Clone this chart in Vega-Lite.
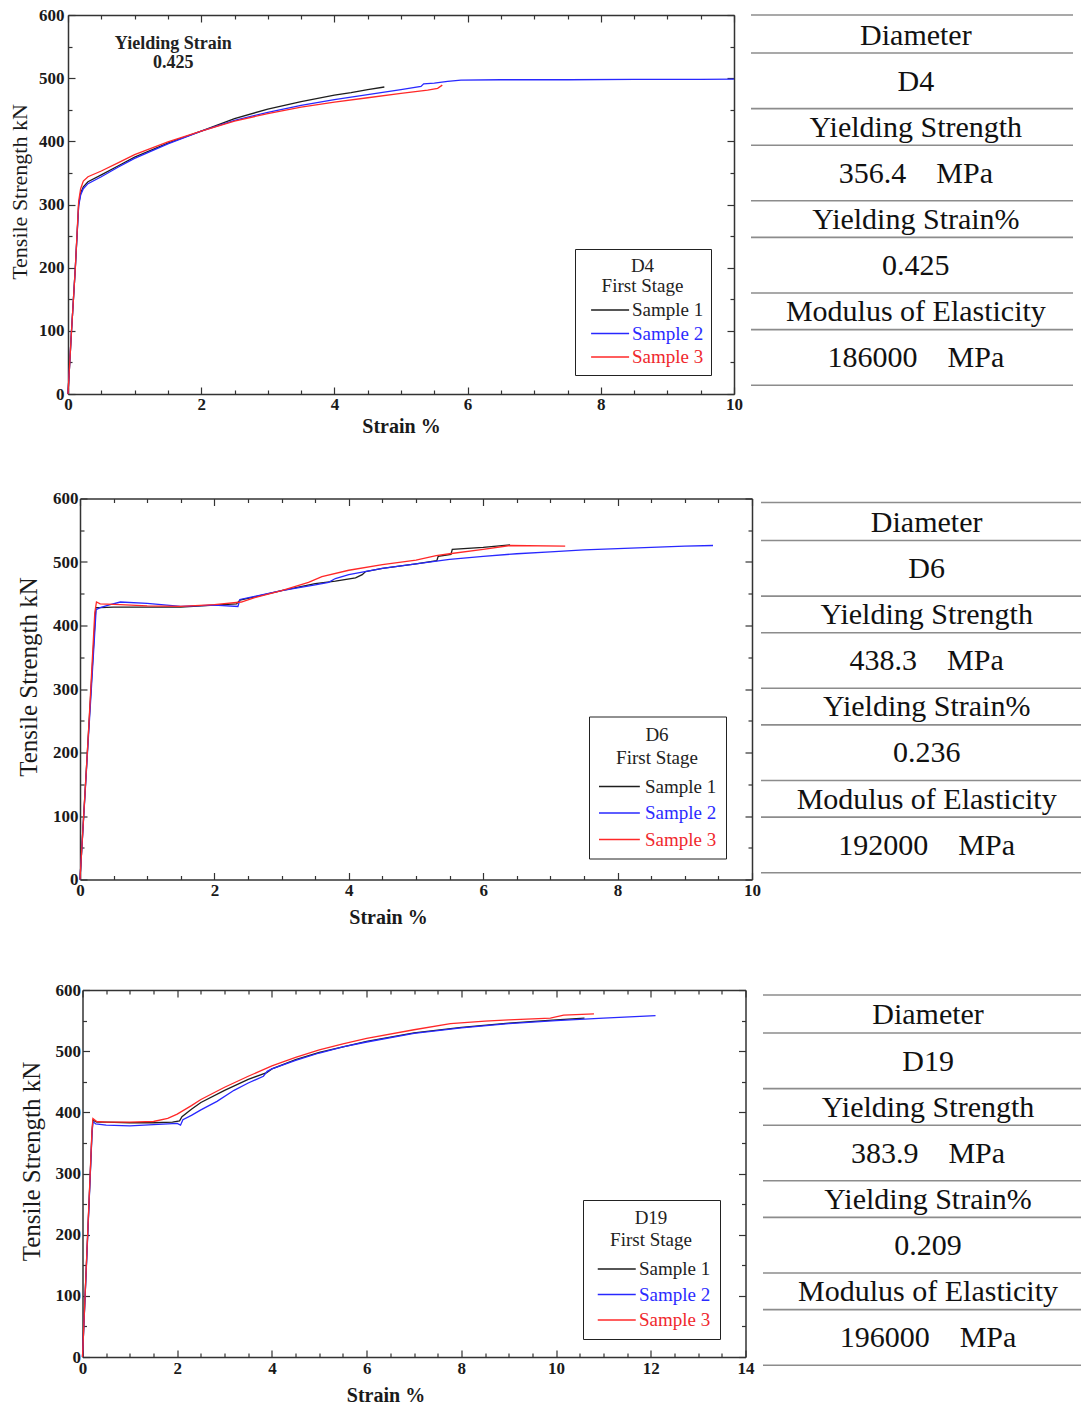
{
  "$schema": "https://vega.github.io/schema/vega-lite/v6.json",
  "background": "white",
  "padding": {"left": 0, "top": 6, "right": 0, "bottom": 0},
  "spacing": 53.5,
  "resolve": {"scale": {"color": "independent"}, "legend": {"color": "independent"}},
  "datasets": {
    "d4": [
      {"sample": "Sample 1", "strain": 0, "load": 0}, {"sample": "Sample 1", "strain": 0.05, "load": 95}, {"sample": "Sample 1", "strain": 0.11, "load": 200}, {"sample": "Sample 1", "strain": 0.16, "load": 300}, {"sample": "Sample 1", "strain": 0.19, "load": 318}, {"sample": "Sample 1", "strain": 0.23, "load": 328}, {"sample": "Sample 1", "strain": 0.3, "load": 336}, {"sample": "Sample 1", "strain": 0.5, "load": 347}, {"sample": "Sample 1", "strain": 0.75, "load": 361}, {"sample": "Sample 1", "strain": 1.0, "load": 375}, {"sample": "Sample 1", "strain": 1.5, "load": 397}, {"sample": "Sample 1", "strain": 2.0, "load": 416}, {"sample": "Sample 1", "strain": 2.5, "load": 436}, {"sample": "Sample 1", "strain": 3.0, "load": 451}, {"sample": "Sample 1", "strain": 3.5, "load": 463}, {"sample": "Sample 1", "strain": 4.0, "load": 473}, {"sample": "Sample 1", "strain": 4.25, "load": 477}, {"sample": "Sample 1", "strain": 4.5, "load": 482}, {"sample": "Sample 1", "strain": 4.75, "load": 486},
      {"sample": "Sample 2", "strain": 0, "load": 0}, {"sample": "Sample 2", "strain": 0.05, "load": 95}, {"sample": "Sample 2", "strain": 0.11, "load": 200}, {"sample": "Sample 2", "strain": 0.16, "load": 298}, {"sample": "Sample 2", "strain": 0.19, "load": 315}, {"sample": "Sample 2", "strain": 0.23, "load": 325}, {"sample": "Sample 2", "strain": 0.3, "load": 333}, {"sample": "Sample 2", "strain": 0.5, "load": 344}, {"sample": "Sample 2", "strain": 0.75, "load": 359}, {"sample": "Sample 2", "strain": 1.0, "load": 373}, {"sample": "Sample 2", "strain": 1.5, "load": 396}, {"sample": "Sample 2", "strain": 2.0, "load": 416}, {"sample": "Sample 2", "strain": 2.5, "load": 433}, {"sample": "Sample 2", "strain": 3.0, "load": 446}, {"sample": "Sample 2", "strain": 3.5, "load": 457}, {"sample": "Sample 2", "strain": 4.0, "load": 466}, {"sample": "Sample 2", "strain": 4.5, "load": 474}, {"sample": "Sample 2", "strain": 5.0, "load": 482}, {"sample": "Sample 2", "strain": 5.3, "load": 487}, {"sample": "Sample 2", "strain": 5.34, "load": 491}, {"sample": "Sample 2", "strain": 5.5, "load": 492}, {"sample": "Sample 2", "strain": 5.7, "load": 495}, {"sample": "Sample 2", "strain": 5.9, "load": 497}, {"sample": "Sample 2", "strain": 6.5, "load": 497.5}, {"sample": "Sample 2", "strain": 7.5, "load": 497.5}, {"sample": "Sample 2", "strain": 8.5, "load": 498}, {"sample": "Sample 2", "strain": 9.5, "load": 498}, {"sample": "Sample 2", "strain": 10, "load": 498.5},
      {"sample": "Sample 3", "strain": 0, "load": 0}, {"sample": "Sample 3", "strain": 0.05, "load": 95}, {"sample": "Sample 3", "strain": 0.11, "load": 200}, {"sample": "Sample 3", "strain": 0.16, "load": 305}, {"sample": "Sample 3", "strain": 0.19, "load": 325}, {"sample": "Sample 3", "strain": 0.23, "load": 337}, {"sample": "Sample 3", "strain": 0.3, "load": 344}, {"sample": "Sample 3", "strain": 0.5, "load": 353}, {"sample": "Sample 3", "strain": 0.75, "load": 366}, {"sample": "Sample 3", "strain": 1.0, "load": 379}, {"sample": "Sample 3", "strain": 1.5, "load": 399}, {"sample": "Sample 3", "strain": 2.0, "load": 416}, {"sample": "Sample 3", "strain": 2.5, "load": 432}, {"sample": "Sample 3", "strain": 3.0, "load": 444}, {"sample": "Sample 3", "strain": 3.5, "load": 454}, {"sample": "Sample 3", "strain": 4.0, "load": 462}, {"sample": "Sample 3", "strain": 4.5, "load": 469}, {"sample": "Sample 3", "strain": 5.0, "load": 476}, {"sample": "Sample 3", "strain": 5.4, "load": 481}, {"sample": "Sample 3", "strain": 5.55, "load": 484}, {"sample": "Sample 3", "strain": 5.62, "load": 489}
    ],
    "d6": [
      {"sample": "Sample 1", "strain": 0, "load": 0}, {"sample": "Sample 1", "strain": 0.12, "load": 220}, {"sample": "Sample 1", "strain": 0.235, "load": 428}, {"sample": "Sample 1", "strain": 0.3, "load": 428}, {"sample": "Sample 1", "strain": 0.5, "load": 429}, {"sample": "Sample 1", "strain": 1.0, "load": 429}, {"sample": "Sample 1", "strain": 1.5, "load": 429}, {"sample": "Sample 1", "strain": 2.0, "load": 432}, {"sample": "Sample 1", "strain": 2.33, "load": 434}, {"sample": "Sample 1", "strain": 2.38, "load": 440}, {"sample": "Sample 1", "strain": 2.6, "load": 445}, {"sample": "Sample 1", "strain": 3.0, "load": 455}, {"sample": "Sample 1", "strain": 3.5, "load": 466}, {"sample": "Sample 1", "strain": 3.8, "load": 470}, {"sample": "Sample 1", "strain": 4.1, "load": 475}, {"sample": "Sample 1", "strain": 4.2, "load": 480}, {"sample": "Sample 1", "strain": 4.25, "load": 485}, {"sample": "Sample 1", "strain": 4.5, "load": 490}, {"sample": "Sample 1", "strain": 5.0, "load": 497}, {"sample": "Sample 1", "strain": 5.31, "load": 502}, {"sample": "Sample 1", "strain": 5.33, "load": 509}, {"sample": "Sample 1", "strain": 5.52, "load": 512}, {"sample": "Sample 1", "strain": 5.54, "load": 520}, {"sample": "Sample 1", "strain": 6.0, "load": 523}, {"sample": "Sample 1", "strain": 6.4, "load": 527},
      {"sample": "Sample 2", "strain": 0, "load": 0}, {"sample": "Sample 2", "strain": 0.12, "load": 215}, {"sample": "Sample 2", "strain": 0.24, "load": 425}, {"sample": "Sample 2", "strain": 0.3, "load": 428}, {"sample": "Sample 2", "strain": 0.45, "load": 433}, {"sample": "Sample 2", "strain": 0.6, "load": 437}, {"sample": "Sample 2", "strain": 1.0, "load": 435}, {"sample": "Sample 2", "strain": 1.5, "load": 430}, {"sample": "Sample 2", "strain": 2.0, "load": 432}, {"sample": "Sample 2", "strain": 2.35, "load": 430}, {"sample": "Sample 2", "strain": 2.38, "load": 441}, {"sample": "Sample 2", "strain": 2.6, "load": 446}, {"sample": "Sample 2", "strain": 3.0, "load": 455}, {"sample": "Sample 2", "strain": 3.5, "load": 464}, {"sample": "Sample 2", "strain": 3.7, "load": 468}, {"sample": "Sample 2", "strain": 3.8, "load": 474}, {"sample": "Sample 2", "strain": 4.0, "load": 480}, {"sample": "Sample 2", "strain": 4.5, "load": 490}, {"sample": "Sample 2", "strain": 5.0, "load": 497}, {"sample": "Sample 2", "strain": 5.5, "load": 504}, {"sample": "Sample 2", "strain": 6.0, "load": 509}, {"sample": "Sample 2", "strain": 6.5, "load": 513}, {"sample": "Sample 2", "strain": 7.0, "load": 516}, {"sample": "Sample 2", "strain": 7.5, "load": 519}, {"sample": "Sample 2", "strain": 8.0, "load": 521}, {"sample": "Sample 2", "strain": 8.5, "load": 523}, {"sample": "Sample 2", "strain": 9.0, "load": 525}, {"sample": "Sample 2", "strain": 9.42, "load": 526},
      {"sample": "Sample 3", "strain": 0, "load": 0}, {"sample": "Sample 3", "strain": 0.12, "load": 220}, {"sample": "Sample 3", "strain": 0.22, "load": 420}, {"sample": "Sample 3", "strain": 0.245, "load": 437}, {"sample": "Sample 3", "strain": 0.3, "load": 434}, {"sample": "Sample 3", "strain": 0.6, "load": 433}, {"sample": "Sample 3", "strain": 1.0, "load": 431}, {"sample": "Sample 3", "strain": 1.5, "load": 430}, {"sample": "Sample 3", "strain": 2.0, "load": 433}, {"sample": "Sample 3", "strain": 2.4, "load": 437}, {"sample": "Sample 3", "strain": 2.6, "load": 444}, {"sample": "Sample 3", "strain": 3.0, "load": 455}, {"sample": "Sample 3", "strain": 3.4, "load": 468}, {"sample": "Sample 3", "strain": 3.6, "load": 477}, {"sample": "Sample 3", "strain": 4.0, "load": 487}, {"sample": "Sample 3", "strain": 4.5, "load": 496}, {"sample": "Sample 3", "strain": 5.0, "load": 503}, {"sample": "Sample 3", "strain": 5.3, "load": 510}, {"sample": "Sample 3", "strain": 5.5, "load": 513}, {"sample": "Sample 3", "strain": 6.0, "load": 520}, {"sample": "Sample 3", "strain": 6.4, "load": 526}, {"sample": "Sample 3", "strain": 7.22, "load": 525}
    ],
    "d19": [
      {"sample": "Sample 1", "strain": 0, "load": 0}, {"sample": "Sample 1", "strain": 0.1, "load": 183}, {"sample": "Sample 1", "strain": 0.2, "load": 366}, {"sample": "Sample 1", "strain": 0.22, "load": 387}, {"sample": "Sample 1", "strain": 0.3, "load": 384}, {"sample": "Sample 1", "strain": 0.5, "load": 384}, {"sample": "Sample 1", "strain": 1.0, "load": 383}, {"sample": "Sample 1", "strain": 1.5, "load": 383}, {"sample": "Sample 1", "strain": 1.9, "load": 384}, {"sample": "Sample 1", "strain": 2.05, "load": 386}, {"sample": "Sample 1", "strain": 2.1, "load": 393}, {"sample": "Sample 1", "strain": 2.3, "load": 405}, {"sample": "Sample 1", "strain": 2.5, "load": 416}, {"sample": "Sample 1", "strain": 3.0, "load": 436}, {"sample": "Sample 1", "strain": 3.5, "load": 454}, {"sample": "Sample 1", "strain": 3.89, "load": 465}, {"sample": "Sample 1", "strain": 4.0, "load": 471}, {"sample": "Sample 1", "strain": 4.5, "load": 486}, {"sample": "Sample 1", "strain": 5.0, "load": 498}, {"sample": "Sample 1", "strain": 5.5, "load": 507}, {"sample": "Sample 1", "strain": 6.0, "load": 516}, {"sample": "Sample 1", "strain": 7.0, "load": 530}, {"sample": "Sample 1", "strain": 8.0, "load": 539}, {"sample": "Sample 1", "strain": 9.0, "load": 546}, {"sample": "Sample 1", "strain": 10.0, "load": 551}, {"sample": "Sample 1", "strain": 10.6, "load": 554},
      {"sample": "Sample 2", "strain": 0, "load": 0}, {"sample": "Sample 2", "strain": 0.1, "load": 180}, {"sample": "Sample 2", "strain": 0.2, "load": 364}, {"sample": "Sample 2", "strain": 0.22, "load": 385}, {"sample": "Sample 2", "strain": 0.28, "load": 381}, {"sample": "Sample 2", "strain": 0.5, "load": 379}, {"sample": "Sample 2", "strain": 1.0, "load": 378}, {"sample": "Sample 2", "strain": 1.5, "load": 380}, {"sample": "Sample 2", "strain": 2.0, "load": 382}, {"sample": "Sample 2", "strain": 2.07, "load": 379}, {"sample": "Sample 2", "strain": 2.12, "load": 388}, {"sample": "Sample 2", "strain": 2.3, "load": 395}, {"sample": "Sample 2", "strain": 2.5, "load": 404}, {"sample": "Sample 2", "strain": 2.84, "load": 418}, {"sample": "Sample 2", "strain": 3.2, "load": 436}, {"sample": "Sample 2", "strain": 3.5, "load": 448}, {"sample": "Sample 2", "strain": 3.82, "load": 459}, {"sample": "Sample 2", "strain": 3.9, "load": 467}, {"sample": "Sample 2", "strain": 4.0, "load": 471}, {"sample": "Sample 2", "strain": 4.5, "load": 485}, {"sample": "Sample 2", "strain": 5.0, "load": 497}, {"sample": "Sample 2", "strain": 5.5, "load": 507}, {"sample": "Sample 2", "strain": 6.0, "load": 515}, {"sample": "Sample 2", "strain": 7.0, "load": 529}, {"sample": "Sample 2", "strain": 8.0, "load": 538}, {"sample": "Sample 2", "strain": 9.0, "load": 545}, {"sample": "Sample 2", "strain": 10.0, "load": 550}, {"sample": "Sample 2", "strain": 11.0, "load": 554}, {"sample": "Sample 2", "strain": 12.1, "load": 558},
      {"sample": "Sample 3", "strain": 0, "load": 0}, {"sample": "Sample 3", "strain": 0.1, "load": 185}, {"sample": "Sample 3", "strain": 0.2, "load": 370}, {"sample": "Sample 3", "strain": 0.22, "load": 390}, {"sample": "Sample 3", "strain": 0.3, "load": 385}, {"sample": "Sample 3", "strain": 0.5, "load": 384}, {"sample": "Sample 3", "strain": 1.0, "load": 384}, {"sample": "Sample 3", "strain": 1.5, "load": 385}, {"sample": "Sample 3", "strain": 1.8, "load": 390}, {"sample": "Sample 3", "strain": 2.0, "load": 397}, {"sample": "Sample 3", "strain": 2.3, "load": 411}, {"sample": "Sample 3", "strain": 2.5, "load": 421}, {"sample": "Sample 3", "strain": 3.0, "load": 441}, {"sample": "Sample 3", "strain": 3.5, "load": 459}, {"sample": "Sample 3", "strain": 4.0, "load": 476}, {"sample": "Sample 3", "strain": 4.5, "load": 490}, {"sample": "Sample 3", "strain": 5.0, "load": 502}, {"sample": "Sample 3", "strain": 5.5, "load": 512}, {"sample": "Sample 3", "strain": 6.0, "load": 521}, {"sample": "Sample 3", "strain": 7.0, "load": 535}, {"sample": "Sample 3", "strain": 7.77, "load": 545}, {"sample": "Sample 3", "strain": 8.5, "load": 549}, {"sample": "Sample 3", "strain": 9.0, "load": 551}, {"sample": "Sample 3", "strain": 9.88, "load": 554}, {"sample": "Sample 3", "strain": 10.16, "load": 559}, {"sample": "Sample 3", "strain": 10.8, "load": 561}
    ],
    "tables": [
      {"table": "D4", "row": 0, "kind": "label", "text": "Diameter"},
      {"table": "D4", "row": 1, "kind": "value", "text": "D4"},
      {"table": "D4", "row": 2, "kind": "label", "text": "Yielding Strength"},
      {"table": "D4", "row": 3, "kind": "value", "text": "356.4\u00a0\u00a0\u00a0\u00a0MPa"},
      {"table": "D4", "row": 4, "kind": "label", "text": "Yielding Strain%"},
      {"table": "D4", "row": 5, "kind": "value", "text": "0.425"},
      {"table": "D4", "row": 6, "kind": "label", "text": "Modulus of Elasticity"},
      {"table": "D4", "row": 7, "kind": "value", "text": "186000\u00a0\u00a0\u00a0\u00a0MPa"},
      {"table": "D6", "row": 0, "kind": "label", "text": "Diameter"},
      {"table": "D6", "row": 1, "kind": "value", "text": "D6"},
      {"table": "D6", "row": 2, "kind": "label", "text": "Yielding Strength"},
      {"table": "D6", "row": 3, "kind": "value", "text": "438.3\u00a0\u00a0\u00a0\u00a0MPa"},
      {"table": "D6", "row": 4, "kind": "label", "text": "Yielding Strain%"},
      {"table": "D6", "row": 5, "kind": "value", "text": "0.236"},
      {"table": "D6", "row": 6, "kind": "label", "text": "Modulus of Elasticity"},
      {"table": "D6", "row": 7, "kind": "value", "text": "192000\u00a0\u00a0\u00a0\u00a0MPa"},
      {"table": "D19", "row": 0, "kind": "label", "text": "Diameter"},
      {"table": "D19", "row": 1, "kind": "value", "text": "D19"},
      {"table": "D19", "row": 2, "kind": "label", "text": "Yielding Strength"},
      {"table": "D19", "row": 3, "kind": "value", "text": "383.9\u00a0\u00a0\u00a0\u00a0MPa"},
      {"table": "D19", "row": 4, "kind": "label", "text": "Yielding Strain%"},
      {"table": "D19", "row": 5, "kind": "value", "text": "0.209"},
      {"table": "D19", "row": 6, "kind": "label", "text": "Modulus of Elasticity"},
      {"table": "D19", "row": 7, "kind": "value", "text": "196000\u00a0\u00a0\u00a0\u00a0MPa"}
    ]
  },
  "vconcat": [
    {
      "spacing": 7,
      "hconcat": [
        {"width": 1, "height": 1, "data": {"values": [{}]}, "mark": {"type": "point", "size": 0, "opacity": 0}, "encoding": {}},
        {
          "width": 666, "height": 379,
          "data": {"name": "d4"},
          "resolve": {"axis": {"x": "independent", "y": "independent"}},
          "layer": [
            {
              "mark": {"type": "line", "strokeWidth": 1.3},
              "encoding": {
                "x": {"field": "strain", "type": "quantitative", "scale": {"domain": [0, 10], "nice": false, "zero": false},
                  "axis": {"orient": "bottom", "values": [0, 2, 4, 6, 8, 10], "tickSize": -7, "labelPadding": 9, "title": "Strain %", "titleFontSize": 20, "titleFontWeight": "bold", "titleX": 333, "titleY": 22}},
                "y": {"field": "load", "type": "quantitative", "scale": {"domain": [0, 600], "nice": false},
                  "axis": {"orient": "left", "values": [0, 100, 200, 300, 400, 500, 600], "tickSize": -7, "labelPadding": 11, "title": "Tensile Strength kN", "titleFontSize": 22, "titleX": -37, "titleY": 176.5}},
                "color": {"field": "sample", "type": "nominal",
                  "scale": {"domain": ["Sample 1", "Sample 2", "Sample 3"], "range": ["#1e1e1e", "#2828ff", "#ff2828"]},
                  "legend": {"orient": "none", "legendX": 575, "legendY": 234, "title": ["D4", "First Stage"], "titleLineHeight": 20, "titlePadding": 4, "rowPadding": 2.5,
                    "padding": 7.5, "symbolType": "M-0.2,0H3.8", "symbolSize": 361, "labelOffset": 28.5,
                    "encode": {"labels": {"update": {"fill": {"signal": "datum.value === 'Sample 2' ? '#2b2bff' : (datum.value === 'Sample 3' ? '#f0282d' : '#222222')"}}}}}}
              }
            },
            {
              "mark": {"type": "point", "opacity": 0},
              "encoding": {
                "x": {"field": "strain", "type": "quantitative", "axis": {"orient": "bottom", "values": [0.5, 1, 1.5, 2.5, 3, 3.5, 4.5, 5, 5.5, 6.5, 7, 7.5, 8.5, 9, 9.5], "tickSize": -4, "labels": false, "domain": false, "title": null}},
                "y": {"field": "load", "type": "quantitative", "axis": {"orient": "left", "values": [50, 150, 250, 350, 450, 550], "tickSize": -4, "labels": false, "domain": false, "title": null}}
              }
            },
            {
              "mark": {"type": "point", "opacity": 0},
              "encoding": {
                "x": {"field": "strain", "type": "quantitative", "axis": {"orient": "top", "values": [0.5, 1, 1.5, 2.5, 3, 3.5, 4.5, 5, 5.5, 6.5, 7, 7.5, 8.5, 9, 9.5], "tickSize": -4, "labels": false, "domain": false, "title": null}},
                "y": {"field": "load", "type": "quantitative", "axis": {"orient": "right", "values": [50, 150, 250, 350, 450, 550], "tickSize": -4, "labels": false, "domain": false, "title": null}}
              }
            },
            {
              "mark": {"type": "point", "opacity": 0},
              "encoding": {
                "x": {"field": "strain", "type": "quantitative", "axis": {"orient": "top", "values": [0, 2, 4, 6, 8, 10], "tickSize": -7, "labels": false, "title": null}},
                "y": {"field": "load", "type": "quantitative", "axis": {"orient": "right", "values": [0, 100, 200, 300, 400, 500, 600], "tickSize": -7, "labels": false, "title": null}}
              }
            },
            {
              "data": {"values": [{}]},
              "mark": {"type": "text", "font": "Liberation Serif", "fontSize": 18, "fontWeight": "bold", "align": "center", "baseline": "middle", "lineHeight": 19, "color": "#222222"},
              "encoding": {
                "x": {"datum": 1.58, "type": "quantitative", "axis": null},
                "y": {"datum": 554, "type": "quantitative", "axis": null},
                "text": {"value": ["Yielding Strain", "0.425"]}
              }
            }
          ]
        },
        {
          "width": 322, "height": 372,
          "data": {"name": "tables"},
          "transform": [{"filter": "datum.table === 'D4'"}],
          "layer": [
            {
              "mark": {"type": "text", "font": "Liberation Serif", "fontSize": 30, "align": "center", "baseline": "middle", "color": "#111111"},
              "encoding": {
                "x": {"datum": 0.512, "type": "quantitative", "scale": {"domain": [0, 1], "nice": false, "zero": false}, "axis": null},
                "y": {"field": "row", "type": "quantitative", "scale": {"domain": [-0.445, 7.625], "reverse": true, "nice": false, "zero": false}, "axis": null},
                "text": {"field": "text"}
              }
            },
            {
              "transform": [{"filter": "datum.row === 0"}],
              "mark": {"type": "rule", "yOffset": -20.5, "color": "#8c8c8c", "strokeWidth": 1.6},
              "encoding": {"y": {"field": "row", "type": "quantitative"}}
            },
            {
              "transform": [{"filter": "datum.kind === 'label'"}],
              "mark": {"type": "rule", "yOffset": 17.5, "color": "#8c8c8c", "strokeWidth": 1.6},
              "encoding": {"y": {"field": "row", "type": "quantitative"}}
            },
            {
              "transform": [{"filter": "datum.kind === 'value'"}],
              "mark": {"type": "rule", "yOffset": 27, "color": "#8c8c8c", "strokeWidth": 1.6},
              "encoding": {"y": {"field": "row", "type": "quantitative"}}
            }
          ]
        }
      ]
    },
    {
      "spacing": -2,
      "hconcat": [
        {"width": 18, "height": 1, "data": {"values": [{}]}, "mark": {"type": "point", "size": 0, "opacity": 0}, "encoding": {}},
        {
          "width": 672, "height": 381,
          "data": {"name": "d6"},
          "resolve": {"axis": {"x": "independent", "y": "independent"}},
          "layer": [
            {
              "mark": {"type": "line", "strokeWidth": 1.3},
              "encoding": {
                "x": {"field": "strain", "type": "quantitative", "scale": {"domain": [0, 10], "nice": false, "zero": false},
                  "axis": {"orient": "bottom", "values": [0, 2, 4, 6, 8, 10], "tickSize": -7, "labelPadding": 10, "title": "Strain %", "titleFontSize": 20, "titleFontWeight": "bold", "titleX": 308, "titleY": 28}},
                "y": {"field": "load", "type": "quantitative", "scale": {"domain": [0, 600], "nice": false},
                  "axis": {"orient": "left", "values": [0, 100, 200, 300, 400, 500, 600], "tickSize": -7, "labelPadding": 9, "title": "Tensile Strength kN", "titleFontSize": 25, "titleX": -38.5, "titleY": 178}},
                "color": {"field": "sample", "type": "nominal",
                  "scale": {"domain": ["Sample 1", "Sample 2", "Sample 3"], "range": ["#1e1e1e", "#2828ff", "#ff2828"]},
                  "legend": {"orient": "none", "legendX": 589, "legendY": 218, "title": ["D6", "First Stage"], "titleLineHeight": 23, "titlePadding": 8.5, "rowPadding": 5.5,
                    "padding": 9, "symbolType": "M-1,0H3.3", "symbolSize": 361, "labelOffset": 26,
                    "encode": {"labels": {"update": {"fill": {"signal": "datum.value === 'Sample 2' ? '#2b2bff' : (datum.value === 'Sample 3' ? '#f0282d' : '#222222')"}}}}}}
              }
            },
            {
              "mark": {"type": "point", "opacity": 0},
              "encoding": {
                "x": {"field": "strain", "type": "quantitative", "axis": {"orient": "bottom", "values": [0.5, 1, 1.5, 2.5, 3, 3.5, 4.5, 5, 5.5, 6.5, 7, 7.5, 8.5, 9, 9.5], "tickSize": -4, "labels": false, "domain": false, "title": null}},
                "y": {"field": "load", "type": "quantitative", "axis": {"orient": "left", "values": [50, 150, 250, 350, 450, 550], "tickSize": -4, "labels": false, "domain": false, "title": null}}
              }
            },
            {
              "mark": {"type": "point", "opacity": 0},
              "encoding": {
                "x": {"field": "strain", "type": "quantitative", "axis": {"orient": "top", "values": [0.5, 1, 1.5, 2.5, 3, 3.5, 4.5, 5, 5.5, 6.5, 7, 7.5, 8.5, 9, 9.5], "tickSize": -4, "labels": false, "domain": false, "title": null}},
                "y": {"field": "load", "type": "quantitative", "axis": {"orient": "right", "values": [50, 150, 250, 350, 450, 550], "tickSize": -4, "labels": false, "domain": false, "title": null}}
              }
            },
            {
              "mark": {"type": "point", "opacity": 0},
              "encoding": {
                "x": {"field": "strain", "type": "quantitative", "axis": {"orient": "top", "values": [0, 2, 4, 6, 8, 10], "tickSize": -7, "labels": false, "title": null}},
                "y": {"field": "load", "type": "quantitative", "axis": {"orient": "right", "values": [0, 100, 200, 300, 400, 500, 600], "tickSize": -7, "labels": false, "title": null}}
              }
            }
          ]
        },
        {
          "width": 321, "height": 376,
          "data": {"name": "tables"},
          "transform": [{"filter": "datum.table === 'D6'"}],
          "layer": [
            {
              "mark": {"type": "text", "font": "Liberation Serif", "fontSize": 30, "align": "center", "baseline": "middle", "color": "#111111"},
              "encoding": {
                "x": {"datum": 0.516, "type": "quantitative", "scale": {"domain": [0, 1], "nice": false, "zero": false}, "axis": null},
                "y": {"field": "row", "type": "quantitative", "scale": {"domain": [-0.531, 7.625], "reverse": true, "nice": false, "zero": false}, "axis": null},
                "text": {"field": "text"}
              }
            },
            {
              "transform": [{"filter": "datum.row === 0"}],
              "mark": {"type": "rule", "yOffset": -20.5, "color": "#8c8c8c", "strokeWidth": 1.6},
              "encoding": {"y": {"field": "row", "type": "quantitative"}}
            },
            {
              "transform": [{"filter": "datum.kind === 'label'"}],
              "mark": {"type": "rule", "yOffset": 17.5, "color": "#8c8c8c", "strokeWidth": 1.6},
              "encoding": {"y": {"field": "row", "type": "quantitative"}}
            },
            {
              "transform": [{"filter": "datum.kind === 'value'"}],
              "mark": {"type": "rule", "yOffset": 27, "color": "#8c8c8c", "strokeWidth": 1.6},
              "encoding": {"y": {"field": "row", "type": "quantitative"}}
            }
          ]
        }
      ]
    },
    {
      "spacing": 7.5,
      "hconcat": [
        {"width": 10.5, "height": 1, "data": {"values": [{}]}, "mark": {"type": "point", "size": 0, "opacity": 0}, "encoding": {}},
        {
          "width": 663, "height": 367,
          "data": {"name": "d19"},
          "resolve": {"axis": {"x": "independent", "y": "independent"}},
          "layer": [
            {
              "mark": {"type": "line", "strokeWidth": 1.3},
              "encoding": {
                "x": {"field": "strain", "type": "quantitative", "scale": {"domain": [0, 14], "nice": false, "zero": false},
                  "axis": {"orient": "bottom", "values": [0, 2, 4, 6, 8, 10, 12, 14], "tickSize": -7, "labelPadding": 10, "title": "Strain %", "titleFontSize": 20, "titleFontWeight": "bold", "titleX": 303, "titleY": 28}},
                "y": {"field": "load", "type": "quantitative", "scale": {"domain": [0, 600], "nice": false},
                  "axis": {"orient": "left", "values": [0, 100, 200, 300, 400, 500, 600], "tickSize": -7, "labelPadding": 9, "title": "Tensile Strength kN", "titleFontSize": 25, "titleX": -38.5, "titleY": 171}},
                "color": {"field": "sample", "type": "nominal",
                  "scale": {"domain": ["Sample 1", "Sample 2", "Sample 3"], "range": ["#1e1e1e", "#2828ff", "#ff2828"]},
                  "legend": {"orient": "none", "legendX": 583, "legendY": 210, "title": ["D19", "First Stage"], "titleLineHeight": 22, "titlePadding": 8.5, "rowPadding": 4.5,
                    "padding": 9, "symbolType": "M-0.5,0H3.5", "symbolSize": 361, "labelOffset": 26,
                    "encode": {"labels": {"update": {"fill": {"signal": "datum.value === 'Sample 2' ? '#2b2bff' : (datum.value === 'Sample 3' ? '#f0282d' : '#222222')"}}}}}}
              }
            },
            {
              "mark": {"type": "point", "opacity": 0},
              "encoding": {
                "x": {"field": "strain", "type": "quantitative", "axis": {"orient": "bottom", "values": [0.5, 1, 1.5, 2.5, 3, 3.5, 4.5, 5, 5.5, 6.5, 7, 7.5, 8.5, 9, 9.5, 10.5, 11, 11.5, 12.5, 13, 13.5], "tickSize": -4, "labels": false, "domain": false, "title": null}},
                "y": {"field": "load", "type": "quantitative", "axis": {"orient": "left", "values": [50, 150, 250, 350, 450, 550], "tickSize": -4, "labels": false, "domain": false, "title": null}}
              }
            },
            {
              "mark": {"type": "point", "opacity": 0},
              "encoding": {
                "x": {"field": "strain", "type": "quantitative", "axis": {"orient": "top", "values": [0.5, 1, 1.5, 2.5, 3, 3.5, 4.5, 5, 5.5, 6.5, 7, 7.5, 8.5, 9, 9.5, 10.5, 11, 11.5, 12.5, 13, 13.5], "tickSize": -4, "labels": false, "domain": false, "title": null}},
                "y": {"field": "load", "type": "quantitative", "axis": {"orient": "right", "values": [50, 150, 250, 350, 450, 550], "tickSize": -4, "labels": false, "domain": false, "title": null}}
              }
            },
            {
              "mark": {"type": "point", "opacity": 0},
              "encoding": {
                "x": {"field": "strain", "type": "quantitative", "axis": {"orient": "top", "values": [0, 2, 4, 6, 8, 10, 12, 14], "tickSize": -7, "labels": false, "title": null}},
                "y": {"field": "load", "type": "quantitative", "axis": {"orient": "right", "values": [0, 100, 200, 300, 400, 500, 600], "tickSize": -7, "labels": false, "title": null}}
              }
            }
          ]
        },
        {
          "width": 318, "height": 377,
          "data": {"name": "tables"},
          "transform": [{"filter": "datum.table === 'D19'"}],
          "layer": [
            {
              "mark": {"type": "text", "font": "Liberation Serif", "fontSize": 30, "align": "center", "baseline": "middle", "color": "#111111"},
              "encoding": {
                "x": {"datum": 0.519, "type": "quantitative", "scale": {"domain": [0, 1], "nice": false, "zero": false}, "axis": null},
                "y": {"field": "row", "type": "quantitative", "scale": {"domain": [-0.553, 7.625], "reverse": true, "nice": false, "zero": false}, "axis": null},
                "text": {"field": "text"}
              }
            },
            {
              "transform": [{"filter": "datum.row === 0"}],
              "mark": {"type": "rule", "yOffset": -20.5, "color": "#8c8c8c", "strokeWidth": 1.6},
              "encoding": {"y": {"field": "row", "type": "quantitative"}}
            },
            {
              "transform": [{"filter": "datum.kind === 'label'"}],
              "mark": {"type": "rule", "yOffset": 17.5, "color": "#8c8c8c", "strokeWidth": 1.6},
              "encoding": {"y": {"field": "row", "type": "quantitative"}}
            },
            {
              "transform": [{"filter": "datum.kind === 'value'"}],
              "mark": {"type": "rule", "yOffset": 27, "color": "#8c8c8c", "strokeWidth": 1.6},
              "encoding": {"y": {"field": "row", "type": "quantitative"}}
            }
          ]
        }
      ]
    }
  ],
  "config": {
    "view": {"stroke": null},
    "font": "Liberation Serif",
    "axis": {
      "labelFont": "Liberation Serif", "labelFontSize": 17, "labelFontWeight": "bold", "labelColor": "#1a1a1a",
      "tickColor": "#333333", "tickWidth": 1.2, "domainColor": "#333333", "domainWidth": 1.5, "grid": false,
      "labelFlush": false, "labelOverlap": false,
      "titleFont": "Liberation Serif", "titleColor": "#1a1a1a", "titleFontWeight": "normal"
    },
    "legend": {
      "titleFont": "Liberation Serif", "titleFontSize": 19, "titleFontWeight": "normal", "titleColor": "#222222",
      "titleAnchor": "middle", "titleAlign": "center",
      "labelFont": "Liberation Serif", "labelFontSize": 19, "labelColor": "#222222",
      "symbolStrokeWidth": 1.5,
      "strokeColor": "#222222", "fillColor": "white", "cornerRadius": 0
    }
  }
}
